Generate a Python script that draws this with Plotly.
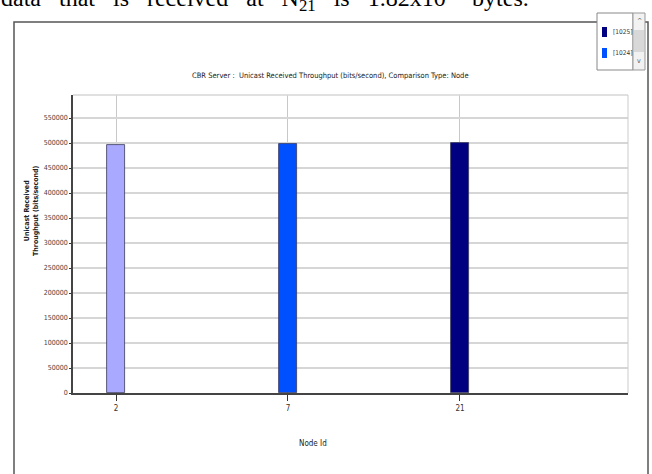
import plotly.graph_objects as go

# ---- data ----
node_ids = ["2", "7", "21"]
series_names = ["[1023]", "[1024]", "[1025]"]
throughput = [496000, 498500, 500000]
bar_colors = ["#a9a9ff", "#0050ff", "#000080"]
y_ticks = [0, 50000, 100000, 150000, 200000, 250000, 300000, 350000, 400000, 450000, 500000, 550000]

W, H = 652, 474
L, R, T, B = 73, 628, 95, 393  # plot area in pixels


def px(x):
    return (x - L) / (R - L)


def py(y):
    return (B - y) / (B - T)


fig = go.Figure()
for i, (name, val, col) in enumerate(zip(series_names, throughput, bar_colors)):
    fig.add_trace(go.Bar(
        x=[i], y=[val], name=name, width=0.105,
        marker=dict(color=col, line=dict(color="#3a3a5a", width=0.8)),
        showlegend=False,
    ))

narrow = "Liberation Sans Narrow, Arial Narrow, DejaVu Sans Condensed, sans-serif"

fig.update_layout(
    width=W, height=H,
    margin=dict(l=L, r=W - R, t=T, b=H - B, pad=0, autoexpand=False),
    paper_bgcolor="white", plot_bgcolor="white",
    bargap=0,
    font=dict(family=narrow, size=7, color="#333"),
    xaxis=dict(
        range=[-0.25, 2.977], tickvals=[0, 1, 2], ticktext=node_ids,
        showgrid=True, gridcolor="#c8c8c8", gridwidth=1,
        showline=True, linecolor="#444", linewidth=2,
        ticks="outside", ticklen=6, tickcolor="#333", tickwidth=1,
        tickfont=dict(size=8, family=narrow, color="#333"),
        zeroline=False, fixedrange=True, automargin=False,
    ),
    yaxis=dict(
        range=[0, 596000], tickvals=y_ticks, ticktext=[str(v) for v in y_ticks],
        showgrid=True, gridcolor="#d6d6d6", gridwidth=1.5,
        showline=True, linecolor="#444", linewidth=1.5,
        ticks="outside", ticklen=2, tickcolor="#333",
        tickfont=dict(size=7, family=narrow, color="#444"),
        zeroline=False, fixedrange=True, automargin=False,
    ),
    showlegend=False,
)

shapes = [
    # top and right light border of plot
    dict(type="line", xref="paper", yref="paper", x0=0, x1=1, y0=1, y1=1,
         line=dict(color="#d6d6d6", width=1.5)),
    dict(type="line", xref="paper", yref="paper", x0=1, x1=1, y0=0, y1=1,
         line=dict(color="#cccccc", width=1)),
    # outer frame
    dict(type="rect", xref="paper", yref="paper", x0=px(14), x1=px(648), y0=py(490), y1=py(22),
         line=dict(color="#555", width=1.5), layer="below"),
    # legend box
    dict(type="rect", xref="paper", yref="paper", x0=px(597), x1=px(633), y0=py(70), y1=py(13),
         line=dict(color="#888", width=1), fillcolor="white"),
    # legend scrollbar
    dict(type="rect", xref="paper", yref="paper", x0=px(633), x1=px(645), y0=py(70), y1=py(13),
         line=dict(color="#999", width=1), fillcolor="#f2f2f2"),
    dict(type="rect", xref="paper", yref="paper", x0=px(634), x1=px(644), y0=py(52), y1=py(30),
         line=dict(width=0), fillcolor="#d8d8d8"),
]

NB = "\u00a0"
gap = NB * 3
caption = ("data" + gap + "that" + gap + "is" + gap + "received" + gap + "at" + gap
           + "N<sub>21</sub>" + gap + "is" + gap + "1.82x10<sup>6</sup>" + gap + "bytes.")

annotations = [
    dict(text="CBR Server :  Unicast Received Throughput (bits/second), Comparison Type: Node",
         xref="paper", yref="paper", x=px(330), y=py(75), xanchor="center", yanchor="middle",
         showarrow=False, font=dict(size=7.5, family=narrow, color="#222")),
    dict(text="Node Id", xref="paper", yref="paper", x=px(313), y=py(443),
         xanchor="center", yanchor="middle", showarrow=False,
         font=dict(size=8, family=narrow, color="#222")),
    dict(text="<b>Unicast Received<br>Throughput (bits/second)</b>", xref="paper", yref="paper",
         x=px(31), y=py(211), xanchor="center", yanchor="middle", textangle=-90,
         showarrow=False, font=dict(size=7, family=narrow, color="#222")),
    dict(text="^", xref="paper", yref="paper", x=px(639), y=py(21), xanchor="center",
         yanchor="middle", showarrow=False, font=dict(size=7, color="#555")),
    dict(text="v", xref="paper", yref="paper", x=px(639), y=py(61), xanchor="center",
         yanchor="middle", showarrow=False, font=dict(size=7, color="#555")),
    dict(text=caption,
         xref="paper", yref="paper", x=px(-1), y=py(17), xanchor="left", yanchor="bottom",
         showarrow=False, font=dict(size=24, family="Liberation Serif, Times New Roman, serif",
                                    color="black")),
]

# legend (scrolled list: the last two series are visible, newest first)
legend_rows = [32, 53]
visible = list(zip(series_names, bar_colors))[::-1][:2]
for (name, col), yc in zip(visible, legend_rows):
    shapes.append(dict(type="rect", xref="paper", yref="paper", x0=px(602), x1=px(607),
                       y0=py(yc + 5), y1=py(yc - 5), line=dict(width=0), fillcolor=col))
    annotations.append(dict(text=name, xref="paper", yref="paper", x=px(611), y=py(yc),
                            xanchor="left", yanchor="middle", showarrow=False,
                            font=dict(size=6.5, family=narrow, color="#333")))

fig.update_layout(shapes=shapes, annotations=annotations)
fig.write_html(
    "out.html",
    config={"displayModeBar": False},
    post_script="document.body.style.margin='0';document.body.style.overflow='hidden';",
)
